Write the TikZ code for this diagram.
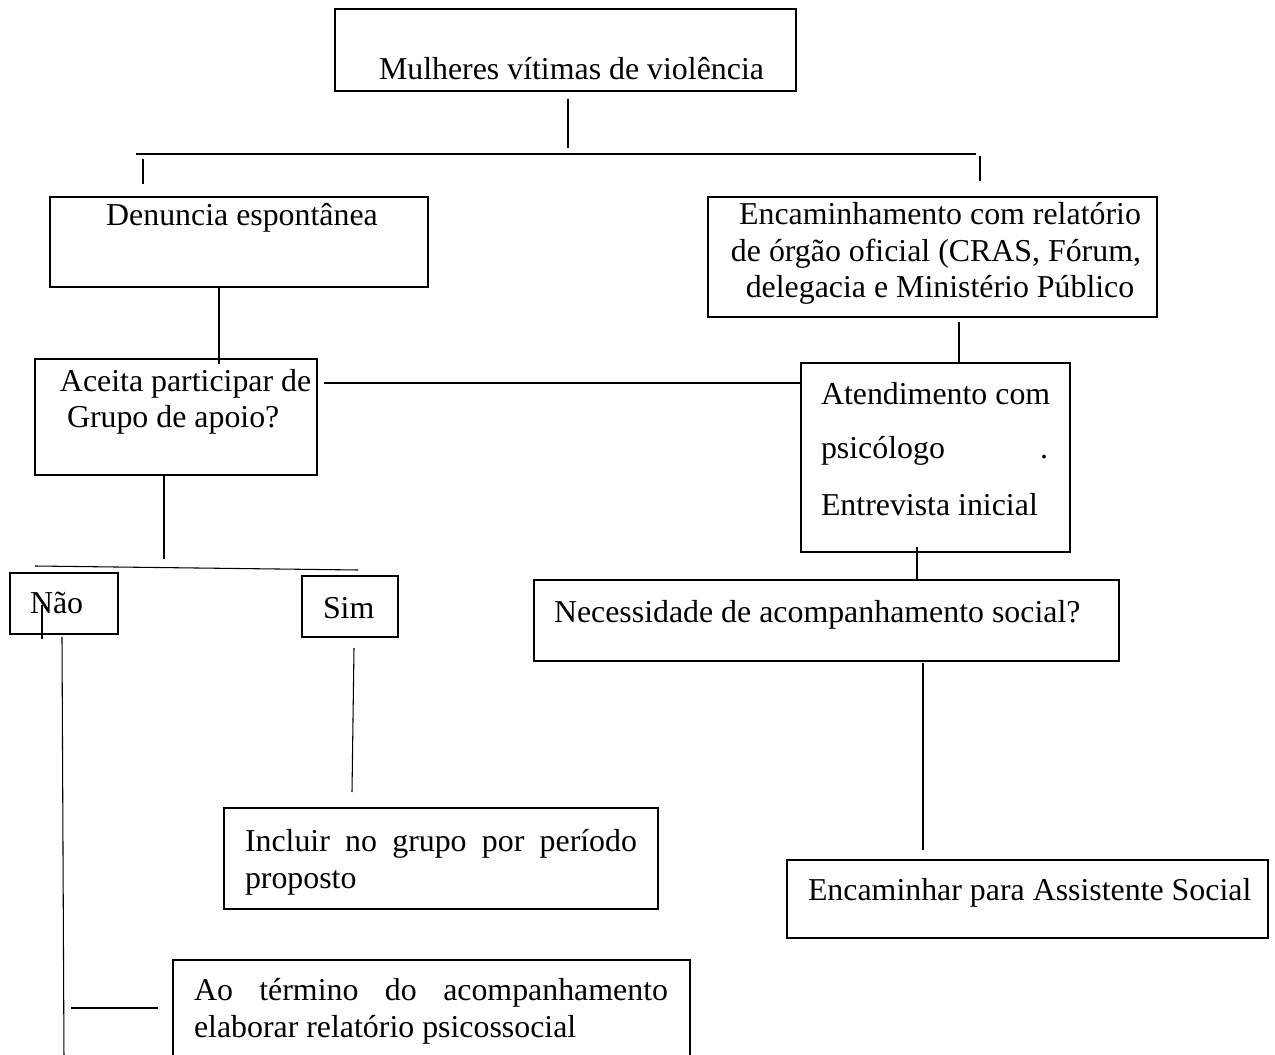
\documentclass[tikz,border=0pt]{standalone}
\usepackage{fontspec}
\setmainfont{Liberation Serif}
\usetikzlibrary{fit}
\tikzset{
  box/.style={draw, line width=1.7pt, inner sep=0pt, outer sep=0pt},
  conn/.style={line width=0.8pt},
  txt/.style={inner sep=0pt, outer sep=0pt, font=\fontsize{23.9}{28}\selectfont},
}
\begin{document}
\begin{tikzpicture}[x=0.75pt,y=-0.75pt]
\useasboundingbox (0,0) rectangle (1275,1055);
\clip (0,0) rectangle (1275,1055);

% boxes
\node[box, fit={(335,9) (796,91)}] (top) {};
\node[box, fit={(50,197) (428,287)}] (den) {};
\node[box, fit={(708,197) (1157,317)}] (enc) {};
\node[box, fit={(35,359) (317,475)}] (ace) {};
\node[box, fit={(801,363) (1070,552)}] (ate) {};
\node[box, fit={(10,573) (118,634)}] (nao) {};
\node[box, fit={(302,576) (398,637)}] (sim) {};
\node[box, fit={(534,580) (1119,661)}] (nec) {};
\node[box, fit={(224,808) (658,909)}] (inc) {};
\node[box, fit={(787,860) (1268,938)}] (encam) {};
\node[box, fit={(173,960) (690,1070)}] (ao) {};

% texts
\node[txt, anchor=base west] (top-t) at (379,80) {Mulheres vítimas de violência};
\node[txt, anchor=base] (den-t) at (242,226) {Denuncia espontânea};
\node[txt, anchor=base] (enc-1) at (940,225) {Encaminhamento com relatório};
\node[txt, anchor=base] (enc-2) at (936,262) {de órgão oficial (CRAS, Fórum,};
\node[txt, anchor=base] (enc-3) at (940,298) {delegacia e Ministério Público};
\node[txt, anchor=base west] (ace-1) at (60,392) {Aceita participar de};
\node[txt, anchor=base west] (ace-2) at (67,428) {Grupo de apoio?};
\node[txt, anchor=base west] (ate-1) at (821,405) {Atendimento com};
\node[txt, anchor=base west] (ate-2) at (821,459) {\makebox[170.25pt][s]{psicólogo .}};
\node[txt, anchor=base west] (ate-3) at (821,516) {Entrevista inicial};
\node[txt, anchor=base west] (nao-t) at (30,613) {Não};
\node[txt, anchor=base west] (sim-t) at (323,618) {Sim};
\node[txt, anchor=base west] (nec-t) at (554,622) {Necessidade de acompanhamento social?};
\node[txt, anchor=base west] (inc-1) at (245,851) {\makebox[294pt][s]{Incluir no grupo por período}};
\node[txt, anchor=base west] (inc-2) at (245,888) {proposto};
\node[txt, anchor=base west] (encam-t) at (808,900) {Encaminhar para Assistente Social};
\node[txt, anchor=base west] (ao-1) at (194,1000) {\makebox[355.5pt][s]{Ao término do acompanhamento}};
\node[txt, anchor=base west] (ao-2) at (194,1037) {elaborar relatório psicossocial};

% connector end points
\coordinate (t1) at (568,99);
\coordinate (t2) at (568,148);
\coordinate (hl) at (136,154);
\coordinate (hr) at (976,154);
\coordinate (l1) at (143,159);
\coordinate (l2) at (143,184);
\coordinate (r1) at (980,156);
\coordinate (r2) at (980,181);
\coordinate (d2) at (219,364);
\coordinate (h6) at (324,383);
\coordinate (e2) at (959,322);
\coordinate (n1) at (917,547);
\coordinate (a2) at (164,559);
\coordinate (gl) at (35,566);
\coordinate (gr) at (358,570);
\coordinate (v1) at (42,605);
\coordinate (v2) at (42,639);
\coordinate (p1) at (62,637);
\coordinate (p2) at (64,1060);
\coordinate (s1) at (354,648);
\coordinate (s2) at (352,792);
\coordinate (q1) at (923,663);
\coordinate (q2) at (923,850);
\coordinate (w1) at (71,1008);
\coordinate (w2) at (158,1008);

% connectors
\draw[conn] (t1) -- (t2);
\draw[conn] (hl) -- (hr);
\draw[conn] (l1) -- (l2);
\draw[conn] (r1) -- (r2);
\draw[conn] (d2 |- den.south) -- (d2);
\draw[conn] (h6) -- (h6 -| ate.west);
\draw[conn] (e2) -- (e2 |- ate.north);
\draw[conn] (n1) -- (n1 |- nec.north);
\draw[conn] (a2 |- ace.south) -- (a2);
\draw[conn] (gl) -- (gr);
\draw[conn] (v1) -- (v2);
\draw[conn] (p1) -- (p2);
\draw[conn] (s1) -- (s2);
\draw[conn] (q1) -- (q2);
\draw[conn] (w1) -- (w2);
\end{tikzpicture}
\end{document}
